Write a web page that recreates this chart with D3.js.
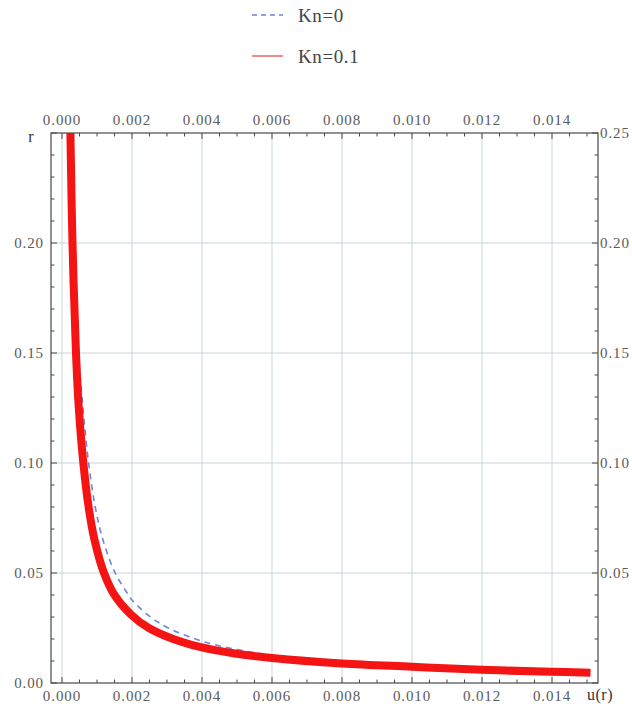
<!DOCTYPE html>
<html>
<head>
<meta charset="utf-8">
<script src="https://cdn.jsdelivr.net/npm/d3@7"></script>
<style>
  html, body { margin: 0; padding: 0; background: #fff; }
  svg { display: block; }
  text { font-family: "Liberation Serif", "DejaVu Serif", serif; }
</style>
</head>
<body>
<svg id="chart" width="632" height="704"></svg>
<script>
// Velocity profile u(r) near the wall, for two Knudsen numbers
const seriesNames = ["Kn=0", "Kn=0.1"];

// Kn = 0 (no slip): [u, r]
const kn0U = [0.00026, 0.00028, 0.00034, 0.00047, 0.00060, 0.00076, 0.00095, 0.00117, 0.00152, 0.00190, 0.0020, 0.00253, 0.00304, 0.0040, 0.0050, 0.0060, 0.0080, 0.0100, 0.0120, 0.0140, 0.0151];
const kn0R = [0.27, 0.25, 0.20, 0.15, 0.125, 0.10, 0.08, 0.065, 0.05, 0.04, 0.0377, 0.030, 0.025, 0.019, 0.0152, 0.0127, 0.0098, 0.0078, 0.0064, 0.0055, 0.0051];

// Kn = 0.1 (slip): [u, r]
const kn01U = [0.00022, 0.00024, 0.00030, 0.00040, 0.00048, 0.00061, 0.00076, 0.00093, 0.00120, 0.00150, 0.00198, 0.00248, 0.00318, 0.00394, 0.0049, 0.0060, 0.0080, 0.0100, 0.0120, 0.0140, 0.0151];
const kn01R = [0.27, 0.25, 0.20, 0.15, 0.125, 0.10, 0.08, 0.065, 0.05, 0.04, 0.031, 0.025, 0.020, 0.0164, 0.0135, 0.0114, 0.0089, 0.0074, 0.0060, 0.0051, 0.0047];

const xTicks = [0.000, 0.002, 0.004, 0.006, 0.008, 0.010, 0.012, 0.014];
const yTicks = [0.00, 0.05, 0.10, 0.15, 0.20, 0.25];
const xLabels = ["0.000", "0.002", "0.004", "0.006", "0.008", "0.010", "0.012", "0.014"];
const yLabels = ["0.00", "0.05", "0.10", "0.15", "0.20", "0.25"];

const svg = d3.select("#chart");
const pLeft = 51, pRight = 598, pTop = 133, pBottom = 683;

const x = d3.scaleLinear().domain([-0.000314, 0.015314]).range([pLeft, pRight]);
const y = d3.scaleLinear().domain([0, 0.25]).range([pBottom, pTop]);

const xMinor = d3.range(0, 0.0153, 0.0005).filter(v => Math.abs(v / 0.002 - Math.round(v / 0.002)) > 1e-6);
const yMinor = d3.range(0, 0.2501, 0.01).filter(v => Math.abs(v / 0.05 - Math.round(v / 0.05)) > 1e-6);

// grid
const grid = svg.append("g").attr("stroke", "#c6d6d9").attr("stroke-width", 1);
xTicks.forEach(t => grid.append("line")
  .attr("x1", x(t)).attr("x2", x(t)).attr("y1", pTop).attr("y2", pBottom));
yTicks.slice(1, -1).forEach(t => grid.append("line")
  .attr("x1", pLeft).attr("x2", pRight).attr("y1", y(t)).attr("y2", y(t)));

// curves, clipped to the frame
svg.append("clipPath").attr("id", "plotArea")
  .append("rect").attr("x", pLeft).attr("y", pTop).attr("width", pRight - pLeft).attr("height", pBottom - pTop);

const line = d3.line().x(d => x(d[0])).y(d => y(d[1])).curve(d3.curveCatmullRom.alpha(0.5));
const kn0 = kn0U.map((u, i) => [u, kn0R[i]]);
const kn01 = kn01U.map((u, i) => [u, kn01R[i]]);

const curves = svg.append("g").attr("clip-path", "url(#plotArea)");
curves.append("path").datum(kn0).attr("d", line)
  .attr("fill", "none").attr("stroke", "#7282e0").attr("stroke-width", 1.6)
  .attr("stroke-dasharray", "6,5");
curves.append("path").datum(kn01).attr("d", line)
  .attr("fill", "none").attr("stroke", "#f41414").attr("stroke-width", 8)
  .attr("stroke-linecap", "butt");

// frame and ticks
const axisColor = "#4a4a4a";
svg.append("rect").attr("x", pLeft).attr("y", pTop).attr("width", pRight - pLeft).attr("height", pBottom - pTop)
  .attr("fill", "none").attr("stroke", axisColor).attr("stroke-width", 1.2);

const ticks = svg.append("g").attr("stroke", axisColor).attr("stroke-width", 1);
xTicks.forEach(t => {
  ticks.append("line").attr("x1", x(t)).attr("x2", x(t)).attr("y1", pBottom).attr("y2", pBottom - 6);
  ticks.append("line").attr("x1", x(t)).attr("x2", x(t)).attr("y1", pTop).attr("y2", pTop + 6);
});
xMinor.forEach(t => {
  ticks.append("line").attr("x1", x(t)).attr("x2", x(t)).attr("y1", pBottom).attr("y2", pBottom - 3.5);
  ticks.append("line").attr("x1", x(t)).attr("x2", x(t)).attr("y1", pTop).attr("y2", pTop + 3.5);
});
yTicks.forEach(t => {
  ticks.append("line").attr("x1", pLeft).attr("x2", pLeft + 6).attr("y1", y(t)).attr("y2", y(t));
  ticks.append("line").attr("x1", pRight).attr("x2", pRight - 6).attr("y1", y(t)).attr("y2", y(t));
});
yMinor.forEach(t => {
  ticks.append("line").attr("x1", pLeft).attr("x2", pLeft + 3.5).attr("y1", y(t)).attr("y2", y(t));
  ticks.append("line").attr("x1", pRight).attr("x2", pRight - 3.5).attr("y1", y(t)).attr("y2", y(t));
});

// tick labels: left axis stops below the "r" label, right axis stops above "u(r)"
const labelColor = "#5a5a5a";
const lab = svg.append("g").attr("fill", labelColor).attr("font-size", 15).attr("letter-spacing", 0.9);
xTicks.forEach((t, i) => {
  lab.append("text").attr("x", x(t)).attr("y", 125).attr("text-anchor", "middle").text(xLabels[i]);
  lab.append("text").attr("x", x(t)).attr("y", 701).attr("text-anchor", "middle").text(xLabels[i]);
});
yTicks.forEach((t, i) => {
  if (i < yTicks.length - 1)
    lab.append("text").attr("x", 44).attr("y", y(t)).attr("dy", "0.35em").attr("text-anchor", "end").text(yLabels[i]);
  if (i > 0)
    lab.append("text").attr("x", 600).attr("y", y(t)).attr("dy", "0.35em").text(yLabels[i]);
});

// axis names
svg.append("text").attr("x", 31).attr("y", 136).attr("dy", "0.35em").attr("text-anchor", "middle")
  .attr("font-size", 16).attr("fill", "#333").text("r");
svg.append("text").attr("x", 587).attr("y", 694).attr("dy", "0.35em")
  .attr("font-size", 16).attr("fill", "#333").attr("letter-spacing", 0.5).text("u(r)");

// legend
const legend = svg.append("g");
const legendRows = [
  { name: seriesNames[0], y: 15, color: "#7282e0", dash: "5,4", width: 1.4 },
  { name: seriesNames[1], y: 56, color: "#ee5555", dash: null, width: 1.4 }
];
legendRows.forEach(r => {
  legend.append("line").attr("x1", 252).attr("x2", 283).attr("y1", r.y).attr("y2", r.y)
    .attr("stroke", r.color).attr("stroke-width", r.width).attr("stroke-dasharray", r.dash);
  legend.append("text").attr("x", 298).attr("y", r.y).attr("dy", "0.35em")
    .attr("font-size", 19).attr("fill", "#444").attr("letter-spacing", 0.6).text(r.name);
});
</script>
</body>
</html>
